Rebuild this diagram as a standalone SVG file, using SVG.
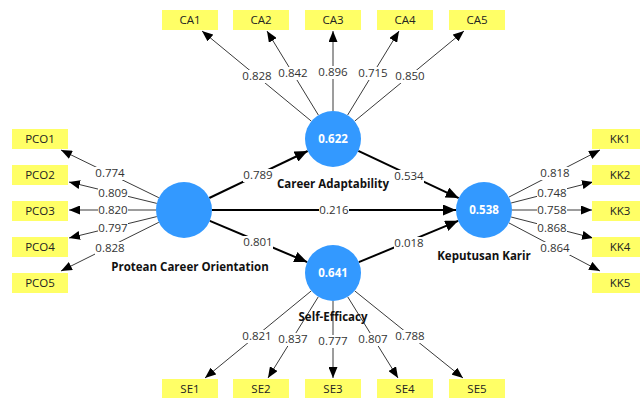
<svg xmlns="http://www.w3.org/2000/svg" width="640" height="398" viewBox="0 0 640 398">
<style>
.box{fill:#FFFF66}
.bt{font-family:"Open Sans","Noto Sans",sans-serif;font-size:11.5px;fill:#222;text-anchor:middle}
.lv{fill:#3399FF}
.lvt{font-family:"Open Sans","Noto Sans",sans-serif;font-size:11.5px;font-weight:bold;fill:#fff;text-anchor:middle}
.lbl{font-family:"Open Sans","Noto Sans",sans-serif;font-size:11.5px;font-weight:bold;fill:#111;text-anchor:middle}
.thin{stroke:#3a3a3a;stroke-width:1;fill:none}
.thick{stroke:#000;stroke-width:2;fill:none}
.num{font-family:"Open Sans","Noto Sans",sans-serif;font-size:11.5px;fill:#333;text-anchor:middle}
.bg{fill:#fff}
</style>
<defs>
<marker id="ah" viewBox="0 0 11 9" refX="11" refY="4.5" markerWidth="11" markerHeight="9" markerUnits="userSpaceOnUse" orient="auto">
<path d="M0,0 L11,4.5 L0,9 Z" fill="#000"/>
</marker>
<marker id="ahb" viewBox="0 0 13 11" refX="13" refY="5.5" markerWidth="13" markerHeight="11" markerUnits="userSpaceOnUse" orient="auto">
<path d="M0,0 L13,5.5 L0,11 Z" fill="#000"/>
</marker>
</defs>
<g id="connectors">
<line class="thin" x1="311.4" y1="121.2" x2="202" y2="31" marker-end="url(#ah)"/>
<line class="thin" x1="318.4" y1="115.1" x2="267" y2="31" marker-end="url(#ah)"/>
<line class="thin" x1="333" y1="111" x2="333" y2="31" marker-end="url(#ah)"/>
<line class="thin" x1="347.6" y1="115.1" x2="399" y2="31" marker-end="url(#ah)"/>
<line class="thin" x1="354.6" y1="121.2" x2="464" y2="31" marker-end="url(#ah)"/>
<line class="thin" x1="158.8" y1="197.7" x2="61" y2="150" marker-end="url(#ah)"/>
<line class="thin" x1="156.8" y1="203.4" x2="69" y2="182" marker-end="url(#ah)"/>
<line class="thin" x1="156" y1="210" x2="69" y2="210" marker-end="url(#ah)"/>
<line class="thin" x1="156.8" y1="216.6" x2="69" y2="238" marker-end="url(#ah)"/>
<line class="thin" x1="158.8" y1="222.3" x2="61" y2="271" marker-end="url(#ah)"/>
<line class="thin" x1="508.9" y1="197.1" x2="600" y2="150" marker-end="url(#ah)"/>
<line class="thin" x1="511.1" y1="203" x2="593" y2="182" marker-end="url(#ah)"/>
<line class="thin" x1="512" y1="210" x2="592" y2="210" marker-end="url(#ah)"/>
<line class="thin" x1="511.1" y1="217" x2="593" y2="238" marker-end="url(#ah)"/>
<line class="thin" x1="508.9" y1="222.9" x2="600" y2="271" marker-end="url(#ah)"/>
<line class="thin" x1="311.4" y1="290.8" x2="205" y2="378" marker-end="url(#ah)"/>
<line class="thin" x1="318.3" y1="296.8" x2="268" y2="378" marker-end="url(#ah)"/>
<line class="thin" x1="333" y1="301" x2="333" y2="378" marker-end="url(#ah)"/>
<line class="thin" x1="347.7" y1="296.8" x2="398" y2="378" marker-end="url(#ah)"/>
<line class="thin" x1="354.6" y1="290.8" x2="463" y2="378" marker-end="url(#ah)"/>
<line class="thick" x1="209.3" y1="198" x2="307.7" y2="151" marker-end="url(#ahb)"/>
<line class="thick" x1="209.8" y1="220.9" x2="307.2" y2="262.1" marker-end="url(#ahb)"/>
<line class="thick" x1="358.3" y1="150.9" x2="458.7" y2="198.1" marker-end="url(#ahb)"/>
<line class="thick" x1="358.8" y1="262.2" x2="458.2" y2="220.8" marker-end="url(#ahb)"/>
<line class="thick" x1="212" y1="210" x2="456" y2="210" marker-end="url(#ahb)"/>
<g id="loadings">
<rect class="bg" x="242" y="70" width="30" height="13"/><text class="num" x="257" y="80">0.828</text>
<rect class="bg" x="278" y="67" width="30" height="13"/><text class="num" x="293" y="77">0.842</text>
<rect class="bg" x="318" y="66" width="30" height="13"/><text class="num" x="333" y="76">0.896</text>
<rect class="bg" x="358" y="67" width="30" height="13"/><text class="num" x="373" y="77">0.715</text>
<rect class="bg" x="395" y="70" width="30" height="13"/><text class="num" x="410" y="80">0.850</text>
<rect class="bg" x="95" y="167" width="30" height="13"/><text class="num" x="110" y="177">0.774</text>
<rect class="bg" x="98" y="187" width="30" height="13"/><text class="num" x="113" y="197">0.809</text>
<rect class="bg" x="98" y="204" width="30" height="13"/><text class="num" x="113" y="214">0.820</text>
<rect class="bg" x="98" y="222" width="30" height="13"/><text class="num" x="113" y="232">0.797</text>
<rect class="bg" x="95" y="242" width="30" height="13"/><text class="num" x="110" y="252">0.828</text>
<rect class="bg" x="540" y="167" width="30" height="13"/><text class="num" x="555" y="177">0.818</text>
<rect class="bg" x="537" y="187" width="30" height="13"/><text class="num" x="552" y="197">0.748</text>
<rect class="bg" x="537" y="204" width="30" height="13"/><text class="num" x="552" y="214">0.758</text>
<rect class="bg" x="537" y="222" width="30" height="13"/><text class="num" x="552" y="232">0.868</text>
<rect class="bg" x="540" y="242" width="30" height="13"/><text class="num" x="555" y="252">0.864</text>
<rect class="bg" x="242" y="330" width="30" height="13"/><text class="num" x="257" y="340">0.821</text>
<rect class="bg" x="278" y="333" width="30" height="13"/><text class="num" x="293" y="343">0.837</text>
<rect class="bg" x="318" y="335" width="30" height="13"/><text class="num" x="333" y="345">0.777</text>
<rect class="bg" x="358" y="333" width="30" height="13"/><text class="num" x="373" y="343">0.807</text>
<rect class="bg" x="395" y="330" width="30" height="13"/><text class="num" x="410" y="340">0.788</text>
<rect class="bg" x="243" y="169" width="30" height="13"/><text class="num" x="258" y="179">0.789</text>
<rect class="bg" x="243" y="236" width="30" height="13"/><text class="num" x="258" y="246">0.801</text>
<rect class="bg" x="394" y="170" width="30" height="13"/><text class="num" x="409" y="180">0.534</text>
<rect class="bg" x="394" y="237" width="30" height="13"/><text class="num" x="409" y="247">0.018</text>
<rect class="bg" x="319" y="204" width="30" height="13"/><text class="num" x="334" y="214">0.216</text>
</g>
</g>
<g id="CA1"><rect class="box" x="162" y="10" width="56" height="20"/><text class="bt" x="190" y="24">CA1</text></g>
<g id="CA2"><rect class="box" x="233" y="10" width="56" height="20"/><text class="bt" x="261" y="24">CA2</text></g>
<g id="CA3"><rect class="box" x="305" y="10" width="56" height="20"/><text class="bt" x="333" y="24">CA3</text></g>
<g id="CA4"><rect class="box" x="377" y="10" width="56" height="20"/><text class="bt" x="405" y="24">CA4</text></g>
<g id="CA5"><rect class="box" x="449" y="10" width="56" height="20"/><text class="bt" x="477" y="24">CA5</text></g>
<g id="PCO1"><rect class="box" x="12" y="129" width="56" height="20"/><text class="bt" x="40" y="143">PCO1</text></g>
<g id="PCO2"><rect class="box" x="12" y="165" width="56" height="20"/><text class="bt" x="40" y="179">PCO2</text></g>
<g id="PCO3"><rect class="box" x="12" y="201" width="56" height="20"/><text class="bt" x="40" y="215">PCO3</text></g>
<g id="PCO4"><rect class="box" x="12" y="237" width="56" height="20"/><text class="bt" x="40" y="251">PCO4</text></g>
<g id="PCO5"><rect class="box" x="12" y="273" width="56" height="20"/><text class="bt" x="40" y="287">PCO5</text></g>
<g id="KK1"><rect class="box" x="592" y="129" width="56" height="20"/><text class="bt" x="620" y="143">KK1</text></g>
<g id="KK2"><rect class="box" x="592" y="165" width="56" height="20"/><text class="bt" x="620" y="179">KK2</text></g>
<g id="KK3"><rect class="box" x="592" y="201" width="56" height="20"/><text class="bt" x="620" y="215">KK3</text></g>
<g id="KK4"><rect class="box" x="592" y="237" width="56" height="20"/><text class="bt" x="620" y="251">KK4</text></g>
<g id="KK5"><rect class="box" x="592" y="273" width="56" height="20"/><text class="bt" x="620" y="287">KK5</text></g>
<g id="SE1"><rect class="box" x="162" y="379" width="56" height="20"/><text class="bt" x="190" y="393">SE1</text></g>
<g id="SE2"><rect class="box" x="233" y="379" width="56" height="20"/><text class="bt" x="261" y="393">SE2</text></g>
<g id="SE3"><rect class="box" x="305" y="379" width="56" height="20"/><text class="bt" x="333" y="393">SE3</text></g>
<g id="SE4"><rect class="box" x="377" y="379" width="56" height="20"/><text class="bt" x="405" y="393">SE4</text></g>
<g id="SE5"><rect class="box" x="449" y="379" width="56" height="20"/><text class="bt" x="477" y="393">SE5</text></g>
<g id="PCO"><circle class="lv" cx="184" cy="210" r="28"/><text class="lbl" x="190" y="271">Protean Career Orientation</text></g>
<g id="CA"><circle class="lv" cx="333" cy="139" r="28"/><text class="lvt" x="333" y="143">0.622</text><text class="lbl" x="333" y="188">Career Adaptability</text></g>
<g id="SE"><circle class="lv" cx="333" cy="273" r="28"/><text class="lvt" x="333" y="277">0.641</text><text class="lbl" x="333" y="321">Self-Efficacy</text></g>
<g id="KK"><circle class="lv" cx="484" cy="210" r="28"/><text class="lvt" x="484" y="214">0.538</text><text class="lbl" x="484" y="260">Keputusan Karir</text></g>
</svg>
